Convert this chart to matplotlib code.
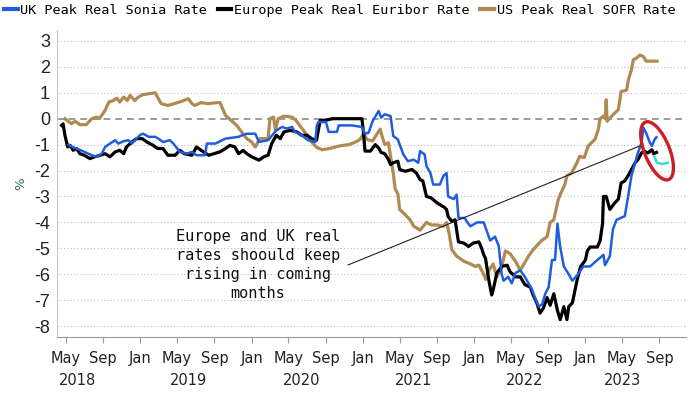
import matplotlib
matplotlib.use("Agg")
import matplotlib.pyplot as plt
import pandas as pd
from matplotlib.patches import Ellipse
from matplotlib.transforms import ScaledTranslation, blended_transform_factory
from matplotlib import font_manager
from matplotlib.lines import Line2D

# ---------------- data ----------------
us_dates = ["2018-04-28","2018-05-19","2018-06-01","2018-06-16","2018-07-07","2018-07-25","2018-08-10","2018-08-19",
            "2018-09-07","2018-09-19","2018-10-04","2018-10-16","2018-10-25","2018-11-07","2018-11-19","2018-11-28",
            "2018-12-13","2018-12-25","2019-01-07","2019-01-28","2019-02-18","2019-03-01","2019-03-10","2019-04-01",
            "2019-04-22","2019-05-16","2019-06-07","2019-06-19","2019-06-28","2019-07-19","2019-08-10","2019-09-10",
            "2019-09-19","2019-10-07","2019-10-19","2019-11-01","2019-11-13","2019-11-25","2019-12-16","2020-01-01",
            "2020-01-13","2020-01-28","2020-02-24","2020-03-01","2020-03-13","2020-03-19","2020-03-28","2020-04-16",
            "2020-05-13","2020-05-25","2020-06-16","2020-07-01","2020-07-16","2020-08-01","2020-08-19","2020-09-13",
            "2020-10-16","2020-11-16","2020-12-07","2020-12-22","2021-01-04","2021-01-13","2021-02-01","2021-02-15",
            "2021-02-26","2021-03-04","2021-03-13","2021-03-25","2021-04-01","2021-04-10","2021-04-16","2021-04-25",
            "2021-05-01","2021-05-19","2021-06-04","2021-06-16","2021-07-07","2021-07-28","2021-08-13","2021-09-01",
            "2021-09-22","2021-10-02","2021-10-10","2021-10-19","2021-11-04","2021-11-28","2021-12-19","2022-01-04",
            "2022-01-16","2022-02-01","2022-02-07","2022-02-18","2022-03-04","2022-03-16","2022-03-30","2022-04-13",
            "2022-04-28","2022-05-16","2022-06-01","2022-06-13","2022-06-28","2022-07-10","2022-07-25","2022-08-10",
            "2022-08-28","2022-09-07","2022-09-19","2022-10-04","2022-10-13","2022-10-25","2022-11-01","2022-11-16",
            "2022-12-04","2022-12-13","2022-12-28","2023-01-10","2023-02-01","2023-02-12","2023-02-18","2023-03-01",
            "2023-03-07","2023-03-10","2023-03-13","2023-04-01","2023-04-19","2023-04-28","2023-05-16","2023-05-22",
            "2023-06-01","2023-06-07","2023-06-17","2023-06-28","2023-07-10","2023-07-19","2023-08-24"]
us_vals = [0.0,-0.19,-0.1,-0.23,-0.23,0.0,0.06,0.0,
           0.32,0.64,0.7,0.79,0.64,0.83,0.7,0.9,
           0.7,0.83,0.92,0.96,1.0,0.77,0.58,0.51,
           0.58,0.67,0.77,0.58,0.51,0.62,0.58,0.62,
           0.62,0.13,0.0,-0.13,-0.26,-0.45,-0.77,-0.9,
           -1.09,-0.77,-0.77,0.0,0.06,-0.45,0.0,0.1,
           0.06,-0.06,-0.4,-0.64,-0.9,-1.1,-1.2,-1.15,
           -1.05,-1.0,-0.9,-0.8,-0.55,-0.8,-0.86,-0.6,
           -0.4,-0.67,-1.0,-0.93,-1.45,-2.1,-2.7,-2.9,
           -3.5,-3.7,-3.9,-4.15,-4.3,-4.0,-4.1,-4.1,
           -4.15,-4.0,-4.4,-5.05,-5.3,-5.5,-5.6,-5.7,
           -5.65,-6.0,-6.2,-5.85,-5.6,-6.1,-5.8,-5.1,
           -5.2,-5.5,-5.85,-5.6,-5.3,-5.1,-4.9,-4.7,
           -4.55,-4.0,-3.9,-3.1,-2.85,-2.55,-2.2,-2.1,
           -1.7,-1.45,-1.5,-1.05,-0.8,-0.42,0.0,0.1,
           0.0,0.73,-0.1,0.15,0.35,1.05,1.1,1.5,
           1.9,2.27,2.33,2.45,2.4,2.22,2.22]

uk_dates = ["2018-05-10","2018-05-25","2018-06-05","2018-07-01","2018-07-25","2018-08-10","2018-08-27","2018-09-07",
            "2018-09-23","2018-10-10","2018-10-20","2018-11-07","2018-11-22","2018-12-04","2018-12-19","2019-01-01",
            "2019-01-10","2019-01-28","2019-02-18","2019-03-01","2019-03-16","2019-04-07","2019-04-19","2019-05-10",
            "2019-06-01","2019-06-19","2019-07-04","2019-08-01","2019-08-07","2019-09-04","2019-10-07","2019-11-19",
            "2019-12-01","2019-12-16","2020-01-13","2020-01-25","2020-02-24","2020-03-13","2020-03-22","2020-04-10",
            "2020-04-25","2020-05-13","2020-05-22","2020-06-13","2020-07-04","2020-07-28","2020-08-02","2020-08-07",
            "2020-09-01","2020-09-10","2020-10-07","2020-10-13","2020-11-25","2020-12-28","2021-01-07","2021-01-19",
            "2021-02-01","2021-02-21","2021-03-01","2021-03-13","2021-04-01","2021-04-10","2021-04-25","2021-05-13",
            "2021-05-28","2021-06-16","2021-07-01","2021-07-07","2021-07-22","2021-07-28","2021-08-10","2021-08-19",
            "2021-09-10","2021-09-22","2021-10-02","2021-10-07","2021-10-25","2021-11-04","2021-11-10","2021-12-01",
            "2021-12-07","2021-12-19","2022-01-10","2022-02-01","2022-02-07","2022-02-22","2022-03-10","2022-03-22",
            "2022-04-01","2022-04-07","2022-04-22","2022-05-04","2022-05-16","2022-06-01","2022-06-16","2022-06-28",
            "2022-07-10","2022-07-19","2022-08-01","2022-08-12","2022-08-22","2022-09-02","2022-09-13","2022-09-23",
            "2022-10-01","2022-10-10","2022-10-22","2022-11-07","2022-11-19","2022-12-04","2022-12-25","2023-01-16",
            "2023-02-09","2023-03-01","2023-03-06","2023-03-22","2023-04-01","2023-04-13","2023-05-10","2023-05-21",
            "2023-06-01","2023-06-13","2023-06-22","2023-07-04","2023-07-10","2023-07-19","2023-08-01","2023-08-07",
            "2023-08-16","2023-08-22"]
uk_vals = [-1.0,-1.1,-1.15,-1.28,-1.41,-1.47,-1.35,-1.09,
           -0.96,-0.83,-0.96,-0.87,-0.83,-0.96,-0.77,-0.62,
           -0.58,-0.7,-0.7,-0.77,-0.9,-0.83,-0.96,-1.28,
           -1.35,-1.28,-1.41,-1.41,-0.96,-0.96,-0.77,-0.7,
           -0.64,-0.58,-0.58,-0.9,-0.83,-0.58,-0.45,-0.32,
           -0.38,-0.32,-0.51,-0.64,-0.83,-0.9,-0.26,-0.13,
           -0.13,-0.51,-0.51,-0.26,-0.26,-0.32,-0.58,-0.54,
           -0.1,0.3,0.04,0.17,0.1,-0.67,-0.8,-1.38,
           -1.64,-1.58,-1.7,-1.25,-1.38,-1.83,-2.1,-2.54,
           -2.54,-2.2,-2.1,-3.0,-3.1,-2.93,-3.83,-3.83,
           -3.96,-4.15,-4.0,-4.0,-4.2,-4.7,-4.55,-4.9,
           -6.0,-6.25,-6.1,-6.35,-5.95,-5.85,-6.1,-6.35,
           -6.6,-6.9,-7.25,-7.15,-6.75,-6.5,-5.45,-5.45,
           -4.05,-4.95,-5.7,-6.0,-6.25,-6.05,-5.7,-5.7,
           -5.45,-5.25,-5.65,-5.3,-4.27,-3.9,-3.76,-3.0,
           -2.2,-1.7,-1.32,-0.94,-0.35,-0.55,-0.94,-1.05,
           -0.8,-0.72]

eu_dates = ["2018-04-17","2018-04-22","2018-04-28","2018-05-07","2018-05-15","2018-05-25","2018-06-05","2018-06-16",
            "2018-07-01","2018-07-19","2018-08-04","2018-08-22","2018-09-07","2018-09-23","2018-10-10","2018-10-25",
            "2018-11-07","2018-11-16","2018-12-04","2018-12-19","2019-01-07","2019-01-22","2019-02-12","2019-02-26",
            "2019-03-16","2019-04-01","2019-04-25","2019-05-10","2019-05-25","2019-06-19","2019-07-04","2019-07-19",
            "2019-08-13","2019-08-22","2019-09-19","2019-10-07","2019-10-22","2019-11-07","2019-11-19","2019-12-04",
            "2019-12-16","2020-01-01","2020-01-25","2020-02-10","2020-02-24","2020-03-07","2020-03-22","2020-04-04",
            "2020-04-16","2020-05-07","2020-05-28","2020-06-13","2020-07-01","2020-07-16","2020-08-01","2020-08-13",
            "2020-09-01","2020-09-22","2020-12-28","2021-01-02","2021-01-07","2021-01-25","2021-02-10","2021-02-21",
            "2021-03-01","2021-03-13","2021-03-25","2021-04-01","2021-04-10","2021-04-25","2021-05-01","2021-05-19",
            "2021-06-10","2021-06-25","2021-07-07","2021-07-16","2021-07-28","2021-08-13","2021-09-01","2021-09-22",
            "2021-10-02","2021-10-07","2021-10-19","2021-10-30","2021-11-04","2021-11-10","2021-11-28","2021-12-13",
            "2021-12-28","2022-01-16","2022-01-25","2022-02-01","2022-02-07","2022-02-18","2022-02-27","2022-03-04",
            "2022-03-16","2022-04-01","2022-04-19","2022-04-28","2022-05-16","2022-06-01","2022-06-16","2022-07-04",
            "2022-07-13","2022-07-25","2022-08-05","2022-08-16","2022-08-28","2022-09-07","2022-09-19","2022-10-01",
            "2022-10-10","2022-10-22","2022-11-01","2022-11-07","2022-11-19","2022-11-28","2022-12-04","2022-12-16",
            "2023-01-01","2023-01-07","2023-01-16","2023-02-09","2023-02-18","2023-02-26","2023-03-01","2023-03-10",
            "2023-03-22","2023-04-07","2023-04-19","2023-04-28","2023-05-10","2023-05-21","2023-06-01","2023-06-13",
            "2023-06-22","2023-07-04","2023-07-13","2023-07-25","2023-08-07","2023-08-13","2023-08-22"]
eu_vals = [-0.26,-0.2,-0.64,-1.09,-1.03,-1.22,-1.15,-1.35,
           -1.41,-1.54,-1.47,-1.41,-1.35,-1.47,-1.28,-1.22,
           -1.35,-1.09,-0.9,-0.77,-0.77,-0.9,-1.03,-1.15,
           -1.15,-1.41,-1.41,-1.22,-1.35,-1.41,-1.09,-1.22,
           -1.41,-1.38,-1.28,-1.15,-1.03,-1.09,-1.35,-1.22,
           -1.35,-1.47,-1.6,-1.47,-1.41,-0.96,-0.64,-0.77,
           -0.51,-0.45,-0.51,-0.64,-0.64,-0.77,-0.83,-0.06,
           -0.06,0.0,0.0,-0.51,-1.25,-1.25,-1.0,-1.13,
           -1.3,-1.35,-1.57,-1.77,-1.7,-1.64,-1.96,-2.03,
           -1.96,-2.1,-2.35,-2.4,-3.0,-3.06,-3.25,-3.4,
           -3.5,-3.77,-3.96,-3.9,-4.3,-4.75,-4.8,-4.93,
           -4.8,-4.75,-5.0,-5.25,-5.4,-6.25,-6.8,-6.6,
           -5.95,-5.7,-5.65,-5.9,-6.1,-6.1,-6.4,-6.5,
           -6.8,-7.1,-7.5,-7.3,-6.9,-7.2,-6.75,-7.4,
           -7.75,-7.25,-7.75,-7.25,-7.1,-6.6,-6.25,-5.7,
           -5.45,-5.1,-4.95,-4.95,-4.7,-4.05,-3.0,-3.0,
           -3.5,-3.25,-3.1,-2.48,-2.4,-2.2,-1.96,-1.7,
           -1.58,-1.32,-1.26,-1.32,-1.2,-1.35,-1.3]

fc_dates = ["2023-08-14","2023-08-24","2023-09-10","2023-09-28"]
fc_vals = [-1.45,-1.7,-1.75,-1.7]

series_labels = ["UK Peak Real Sonia Rate", "Europe Peak Real Euribor Rate", "US Peak Real SOFR Rate"]
yticks = list(range(-8, 4))
xtick_dates = pd.date_range("2018-05-01", "2023-09-01", freq="4MS")
year_labels = ["2018", "2019", "2020", "2021", "2022", "2023"]
year_label_dates = ["2018-06-08", "2019-06-08", "2020-06-12", "2021-06-14", "2022-06-14", "2023-05-01"]
annotation_text = "Europe and UK real\nrates shoould keep\nrising in coming\nmonths"
note_text_pos = ("2020-01-22", -5.64)
note_line_start = ("2020-11-13", -5.64)
note_line_end = ("2023-07-01", -1.04)
ellipse_center = ("2023-08-24", -1.24)

# ---------------- style ----------------
names = {f.name for f in font_manager.fontManager.ttflist}
narrow = "Liberation Sans Narrow" if "Liberation Sans Narrow" in names else "DejaVu Sans"
tick_size = 13 if narrow == "Liberation Sans Narrow" else 10.5
mono = "DejaVu Sans Mono"

C_UK = "#1f5de0"
C_EU = "#000000"
C_US = "#b08a52"
C_FC = "#3fd8d0"

fig = plt.figure(figsize=(7.0, 3.94), dpi=100)
ax = fig.add_axes([57 / 700, 57 / 394, (686 - 57) / 700, 307 / 394])

ax.plot(pd.to_datetime(us_dates), us_vals, color=C_US, lw=2.3, solid_joinstyle="round", zorder=3)
ax.plot(pd.to_datetime(eu_dates), eu_vals, color=C_EU, lw=2.3, solid_joinstyle="round", zorder=4)
ax.plot(pd.to_datetime(fc_dates), fc_vals, color=C_FC, lw=1.8, zorder=4)
ax.plot(pd.to_datetime(uk_dates), uk_vals, color=C_UK, lw=1.8, solid_joinstyle="round", zorder=5)

ax.set_xlim(pd.Timestamp("2018-04-02"), pd.Timestamp("2023-11-27"))
ax.set_ylim(-8.42, 3.42)

# grid
for v in yticks:
    if v == 0:
        ax.axhline(v, color="#8a8a8a", lw=1.2, ls=(0, (4, 3)), zorder=1)
    else:
        ax.axhline(v, color="#bdbdbd", lw=0.8, ls=(0, (1, 2)), zorder=1)

ax.set_yticks(yticks)
ax.set_yticklabels([str(v) for v in yticks], fontfamily="Liberation Sans", fontsize=13, color="#222222")
ax.tick_params(axis="y", length=0, pad=5)

ax.set_xticks(xtick_dates)
ax.set_xticklabels([d.strftime("%b") for d in xtick_dates], fontfamily=narrow, fontsize=tick_size, color="#222222")
ax.tick_params(axis="x", length=4, width=0.8, color="#999999", pad=6)

trans = blended_transform_factory(ax.transData, ax.transAxes)
for y, d in zip(year_labels, year_label_dates):
    ax.text(pd.Timestamp(d), -0.143, y, transform=trans, ha="center", va="center",
            fontfamily=narrow, fontsize=tick_size, color="#222222")

for s in ["top", "right"]:
    ax.spines[s].set_visible(False)
ax.spines["left"].set_color("#c8c8c8")
ax.spines["bottom"].set_color("#9a9a9a")

ax.set_ylabel("%", fontsize=9.5, color="#2e6e50", labelpad=5)

# annotation
ax.text(pd.Timestamp(note_text_pos[0]), note_text_pos[1], annotation_text, ha="center", va="center",
        fontfamily=mono, fontsize=11, linespacing=1.35, color="#111111", zorder=6)
ax.plot([pd.Timestamp(note_line_start[0]), pd.Timestamp(note_line_end[0])],
        [note_line_start[1], note_line_end[1]], color="#222222", lw=0.8, zorder=6)

# red ellipse
etrans = fig.dpi_scale_trans + ScaledTranslation(
    matplotlib.dates.date2num(pd.Timestamp(ellipse_center[0])), ellipse_center[1], ax.transData)
ell = Ellipse((0, 0), width=0.25, height=0.62, angle=22, transform=etrans,
              fill=False, edgecolor="#cc1f24", lw=2.4, zorder=7)
ax.add_artist(ell)

# legend
handles = [Line2D([], [], color=C_UK, lw=3), Line2D([], [], color=C_EU, lw=3), Line2D([], [], color=C_US, lw=3)]
fig.legend(handles, series_labels, loc="upper left", bbox_to_anchor=(0.0, 1.0), ncol=3, frameon=False,
           prop={"family": mono, "size": 9.7}, handlelength=1.0, handletextpad=0.2, columnspacing=0.8,
           borderaxespad=0.1, borderpad=0.2)

fig.savefig("out.png", dpi=100)
